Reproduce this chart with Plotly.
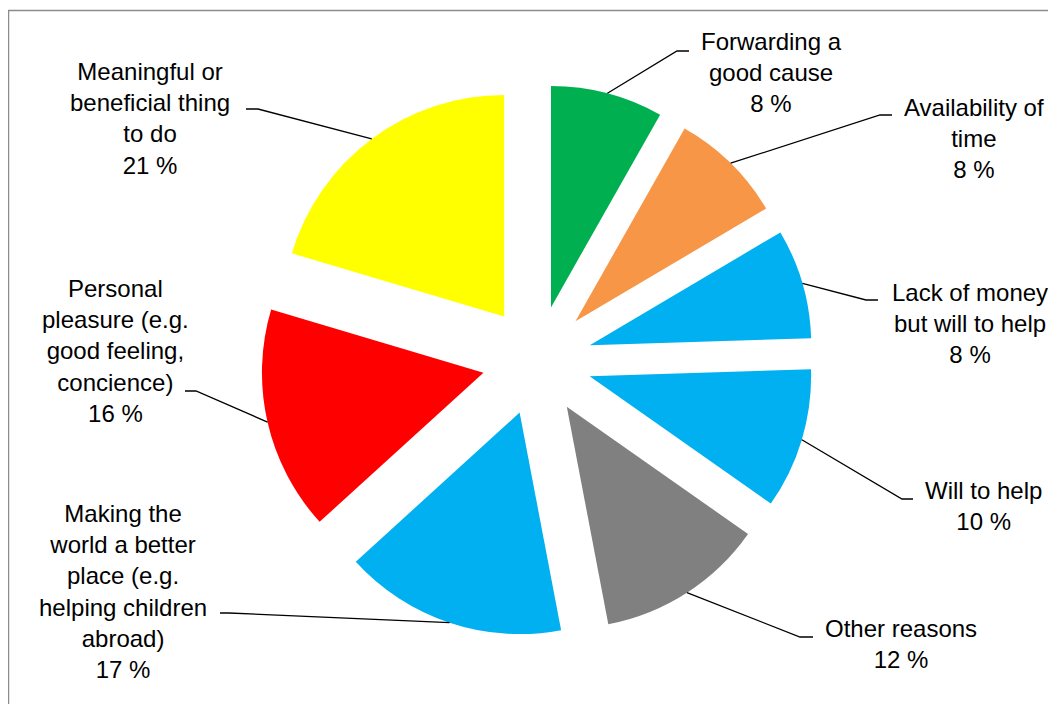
import math
import plotly.graph_objects as go

# ---- data ----
labels = [
    "Forwarding a<br>good cause",
    "Availability of<br>time",
    "Lack of money<br>but will to help",
    "Will to help",
    "Other reasons",
    "Making the<br>world a better<br>place (e.g.<br>helping children<br>abroad)",
    "Personal<br>pleasure (e.g.<br>good feeling,<br>concience)",
    "Meaningful or<br>beneficial thing<br>to do",
]
# slice sizes as drawn in the picture (share of circle, %)
values = [8.2, 8.3, 8.0, 10.25, 12.25, 16.25, 16.35, 20.4]
# percentages printed on the labels
pct_labels = [8, 8, 8, 10, 12, 17, 16, 21]
colors = ["#00B050", "#F79646", "#00B0F0", "#00B0F0", "#808080",
          "#00B0F0", "#FF0000", "#FFFF00"]

# ---- layout constants (screen pixels) ----
W, H = 1056, 704
OFF = 8                    # page body margin
CX, CY = 537, 360.5        # pie centre
R = 221.5                  # slice radius
PULL = 0.248               # explode fraction of radius
BOX = 2 * R * (1 + PULL)   # plotly pie box size

# label block centres and leader elbows (screen pixels)
label_pos = [(771, 73), (974, 139), (970, 323), (983, 506),
             (901, 644), (123, 591), (115, 351), (150, 118)]
elbows = [((677, 51), (689, 51)), ((880, 115), (892, 115)),
          ((866, 300), (878, 300)), ((902, 499), (913, 499)),
          ((800, 637), (813, 637)), ((229, 613), (220, 613)),
          ((196, 391), (185, 391)), ((258, 109), (246, 109))]


def px(x):
    return (x - OFF) / W


def py(y):
    return 1 - (y - OFF) / H


fig = go.Figure()
fig.add_trace(go.Pie(
    labels=[l.replace("<br>", " ") for l in labels],
    values=values,
    marker=dict(colors=colors, line=dict(width=0)),
    pull=[PULL] * len(values),
    sort=False,
    direction="clockwise",
    rotation=0,
    textinfo="none",
    hoverinfo="label",
    showlegend=False,
    domain=dict(x=[px(CX - BOX / 2), px(CX + BOX / 2)],
                y=[py(CY + BOX / 2), py(CY - BOX / 2)]),
))

total = sum(values)
shapes = []
annotations = []
cum = 0
for i, v in enumerate(values):
    mid = (cum + v / 2) / total * 2 * math.pi
    cum += v
    rr = R * (1 + PULL)
    sx = CX + rr * math.sin(mid)
    sy = CY - rr * math.cos(mid)
    (ex, ey), (tx, ty) = elbows[i]
    path = f"M {px(sx)},{py(sy)} L {px(ex)},{py(ey)} L {px(tx)},{py(ty)}"
    shapes.append(dict(type="path", xref="paper", yref="paper", path=path,
                       line=dict(color="black", width=1.3)))
    lx, ly = label_pos[i]
    annotations.append(dict(
        x=px(lx), y=py(ly), xref="paper", yref="paper",
        text=f"{labels[i]}<br>{pct_labels[i]} %", showarrow=False,
        xanchor="center", yanchor="middle", align="center",
        font=dict(family="Liberation Sans, Arial", size=24, color="black"),
    ))

# chart-area border
shapes.append(dict(type="rect", xref="paper", yref="paper",
                   x0=px(8.5), x1=1.2, y0=-0.2, y1=py(10.5),
                   line=dict(color="#8c8c8c", width=1.5),
                   fillcolor="rgba(0,0,0,0)"))

fig.update_layout(
    width=W, height=H,
    margin=dict(l=0, r=0, t=0, b=0),
    paper_bgcolor="white", plot_bgcolor="white",
    shapes=shapes, annotations=annotations,
)

fig.write_html("out.html")
